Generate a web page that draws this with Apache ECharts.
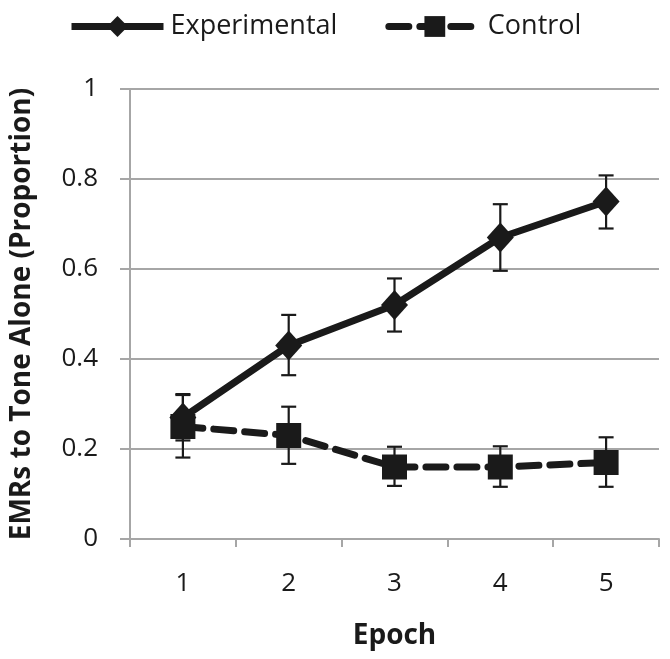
<!DOCTYPE html>
<html><head><meta charset="utf-8">
<script src="https://cdn.jsdelivr.net/npm/echarts@6/dist/echarts.min.js"></script>
<style>html,body{margin:0;padding:0;background:#fff}#c{width:670px;height:659px}</style>
</head><body><div id="c"></div>
<script>
const categories = ['1', '2', '3', '4', '5'];
const experimental = [0.27, 0.43, 0.52, 0.67, 0.75];
const experimentalLow = [0.219, 0.364, 0.461, 0.596, 0.690];
const experimentalHigh = [0.322, 0.498, 0.579, 0.744, 0.808];
const control = [0.25, 0.23, 0.16, 0.16, 0.17];
const controlLow = [0.181, 0.167, 0.118, 0.116, 0.116];
const controlHigh = [0.32, 0.294, 0.205, 0.206, 0.226];

const FONT = '"Open Sans", "Noto Sans", sans-serif';
const INK = '#1a1a1a';

function errSeries(low, high) {
  return {
    type: 'custom',
    z: 1,
    silent: true,
    data: categories.map((c, i) => [i, low[i], high[i]]),
    renderItem: function (params, api) {
      const x = api.value(0);
      const lo = api.coord([x, api.value(1)]);
      const hi = api.coord([x, api.value(2)]);
      const w = 7.5;
      const st = { stroke: INK, lineWidth: 2.2 };
      return {
        type: 'group',
        children: [
          { type: 'line', shape: { x1: lo[0], y1: lo[1], x2: hi[0], y2: hi[1] }, style: st },
          { type: 'line', shape: { x1: lo[0] - w, y1: lo[1], x2: lo[0] + w, y2: lo[1] }, style: st },
          { type: 'line', shape: { x1: hi[0] - w, y1: hi[1], x2: hi[0] + w, y2: hi[1] }, style: st }
        ]
      };
    }
  };
}

const chart = echarts.init(document.getElementById('c'));
chart.setOption({
  animation: false,
  backgroundColor: '#fff',
  legend: {
    top: 8,
    left: 63,
    itemWidth: 92,
    itemHeight: 26,
    itemGap: 48,
    lineStyle: { width: 7 },
    textStyle: { fontFamily: FONT, fontSize: 27, color: INK, padding: [0, 0, 0, 2] },
    data: ['Experimental', 'Control']
  },
  grid: { left: 124, right: 11, top: 89, bottom: 120, containLabel: false },
  xAxis: {
    type: 'category',
    data: categories,
    boundaryGap: true,
    name: 'Epoch',
    nameLocation: 'middle',
    nameGap: 83,
    nameTextStyle: { fontFamily: FONT, fontSize: 28, fontWeight: 'bold', color: INK },
    axisLine: { lineStyle: { color: '#a6a6a6', width: 2 } },
    axisTick: { show: true, length: 8, lineStyle: { color: '#a6a6a6', width: 2 }, alignWithLabel: false },
    axisLabel: { fontFamily: FONT, fontSize: 26, color: INK, margin: 32 },
    splitLine: { show: false }
  },
  yAxis: {
    type: 'value',
    min: 0,
    max: 1,
    interval: 0.2,
    name: 'EMRs to Tone Alone (Proportion)',
    nameLocation: 'middle',
    nameGap: 94,
    nameTextStyle: { fontFamily: FONT, fontSize: 28, fontWeight: 'bold', color: INK },
    axisLine: { show: true, lineStyle: { color: '#a6a6a6', width: 2 } },
    axisTick: { show: true, length: 10, lineStyle: { color: '#a6a6a6', width: 2 } },
    axisLabel: { fontFamily: FONT, fontSize: 26, color: INK, margin: 32,
      formatter: v => String(Math.round(v * 10) / 10) },
    splitLine: { show: true, lineStyle: { color: '#a6a6a6', width: 2 } }
  },
  series: [
    errSeries(experimentalLow, experimentalHigh),
    errSeries(controlLow, controlHigh),
    {
      name: 'Experimental',
      type: 'line',
      z: 3,
      data: experimental,
      symbol: 'diamond',
      symbolSize: [27, 30],
      itemStyle: { color: INK },
      lineStyle: { color: INK, width: 7 }
    },
    {
      name: 'Control',
      type: 'line',
      z: 3,
      data: control,
      symbol: 'rect',
      symbolSize: [25, 25],
      itemStyle: { color: INK },
      lineStyle: { color: INK, width: 7, type: [20, 11], cap: 'round' }
    }
  ]
});
</script></body></html>
